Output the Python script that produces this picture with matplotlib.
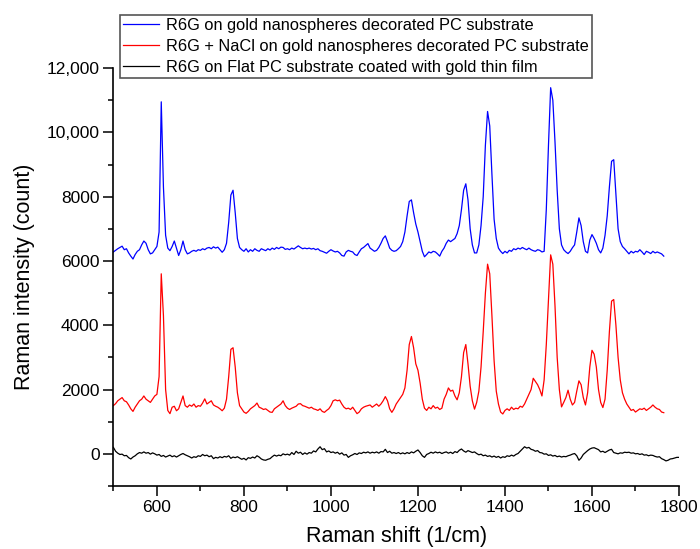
import numpy as np
import matplotlib
matplotlib.use("Agg")
import matplotlib.pyplot as plt
from matplotlib.ticker import FixedLocator

plt.rcParams['font.family'] = ['Liberation Sans', 'DejaVu Sans']

# ---- data (Raman shift grid, step 5 1/cm) ----
shift_np = np.arange(500, 1766, 5)        # gold nanospheres series (500-1765)
shift_flat = np.arange(500, 1801, 5)      # flat film series (500-1800)

labels = [
    "R6G on gold nanospheres decorated PC substrate",
    "R6G + NaCl on gold nanospheres decorated PC substrate",
    "R6G on Flat PC substrate coated with gold thin film",
]

r6g_np = [
    6280, 6330, 6380, 6420, 6460, 6350, 6380, 6250, 6150, 6060,
    6200, 6300, 6350, 6500, 6620, 6550, 6350, 6220, 6250, 6350,
    6450, 6900, 10950, 8300, 6800, 6400, 6320, 6450, 6620, 6400,
    6170, 6350, 6620, 6350, 6220, 6250, 6300, 6330, 6300, 6350,
    6330, 6380, 6350, 6400, 6420, 6380, 6440, 6400, 6430, 6350,
    6270, 6350, 6550, 7200, 8050, 8200, 7500, 6700, 6420, 6350,
    6300, 6380, 6280, 6350, 6300, 6380, 6330, 6300, 6380, 6350,
    6320, 6380, 6340, 6400, 6360, 6420, 6380, 6430, 6420, 6360,
    6380, 6350, 6400, 6370, 6420, 6470, 6420, 6380, 6400, 6380,
    6400, 6370, 6390, 6350, 6380, 6320, 6300, 6270, 6240, 6300,
    6350, 6310, 6280, 6300, 6250, 6170, 6150, 6280, 6330, 6300,
    6280, 6200, 6170, 6280, 6380, 6420, 6480, 6540, 6400, 6350,
    6300, 6330, 6420, 6550, 6700, 6780, 6600, 6400, 6330, 6300,
    6320, 6380, 6450, 6600, 6900, 7400, 7850, 7900, 7500, 7150,
    6900, 6600, 6300, 6130, 6200, 6280, 6250, 6300, 6280, 6220,
    6150, 6300, 6400, 6550, 6650, 6600, 6650, 6700, 6850, 7100,
    7600, 8200, 8400, 7900, 7000, 6500, 6250, 6250, 6500, 7100,
    8000, 9600, 10650, 10200, 8700, 7300, 6700, 6400, 6300, 6230,
    6300, 6250, 6330, 6300, 6380, 6350, 6400, 6370, 6420, 6380,
    6350, 6400, 6350, 6320, 6300, 6350, 6330, 6280, 6300, 7600,
    9600, 11390, 11000, 9700, 8200, 7000, 6500, 6350, 6280, 6230,
    6300, 6410, 6500, 6900, 7340, 7100, 6600, 6300, 6250, 6650,
    6820, 6700, 6550, 6350, 6250, 6400, 6800, 7400, 8300, 9100,
    9150, 8100, 7000, 6600, 6450, 6380, 6300, 6220, 6300, 6250,
    6300, 6280, 6350, 6280, 6200, 6300, 6270, 6230, 6300, 6250,
    6280, 6250, 6220, 6150,
]

r6g_nacl = [
    1500, 1560, 1650, 1700, 1750, 1650, 1620, 1520, 1400, 1320,
    1450, 1550, 1650, 1700, 1800, 1700, 1650, 1600, 1700, 1800,
    1850, 2400, 5600, 4300, 2000, 1350, 1250, 1450, 1480, 1340,
    1400, 1600, 1800, 1500, 1450, 1520, 1480, 1550, 1450, 1500,
    1480, 1580, 1710, 1550, 1600, 1650, 1520, 1480, 1450, 1400,
    1340, 1420, 1700, 2400, 3250, 3300, 2700, 1900, 1500, 1400,
    1300, 1260, 1320, 1400, 1450, 1500, 1580, 1450, 1420, 1380,
    1400, 1350, 1300, 1290, 1400, 1450, 1500, 1550, 1650, 1500,
    1420, 1380, 1420, 1450, 1480, 1550, 1560, 1500, 1480, 1450,
    1420, 1450, 1400, 1380, 1350, 1400, 1320, 1290, 1350, 1400,
    1500, 1650, 1680, 1650, 1670, 1550, 1450, 1400, 1420, 1380,
    1450, 1350, 1250, 1300, 1400, 1450, 1480, 1500, 1520, 1450,
    1500, 1550, 1480, 1550, 1650, 1780, 1650, 1400, 1290, 1400,
    1550, 1650, 1750, 1850, 2050, 2600, 3400, 3650, 3300, 2800,
    2600, 2200, 1700, 1420, 1350, 1450, 1400, 1500, 1420, 1450,
    1380, 1420, 1700, 1850, 2050, 1950, 1980, 1800, 1680, 1900,
    2400, 3150, 3400, 2800, 2100, 1650, 1390, 1600, 1950, 2700,
    3800, 5000, 5900, 5600, 4300, 2900, 1950, 1550, 1300, 1240,
    1350, 1400, 1350, 1450, 1380, 1420, 1400, 1480, 1450, 1550,
    1700, 1850, 2000, 2350, 2250, 2150, 2000, 1800, 2300, 3400,
    4800, 6190, 5900, 4600, 3000, 2000, 1460, 1600, 1750, 1980,
    1700, 1520, 1600, 1950, 2270, 2150, 1750, 1520, 1900, 2700,
    3220, 3100, 2700, 2000, 1600, 1440, 1700, 2600, 3800, 4750,
    4800, 4000, 3000, 2300, 1900, 1700, 1550, 1450, 1350, 1380,
    1300, 1350, 1400, 1380, 1420, 1350, 1400, 1450, 1520, 1450,
    1400, 1380, 1300, 1280,
]

r6g_flat = [
    200, 80, 20, -20, -10, -60, -50, -120, -160, -100,
    -60, 0, 40, 20, 60, 20, 40, -10, 30, 0,
    -40, -20, -80, -50, -100, -70, -40, -90, -60, -100,
    -60, -20, 10, -30, -60, -90, -130, -90, -110, -60,
    -80, -20, -60, -40, -90, -60, -150, -110, -130, -90,
    -120, -80, -100, -60, -140, -100, -120, -90, -130, -170,
    -140, -190, -120, -140, -100, -130, -60, -100, -160, -190,
    -200, -170, -150, -90, -40, -70, -40, -60, 0, -30,
    -10, -40, 40, -20, 80, 20, 50, -20, 30, -10,
    40, 20, 90, 60, 150, 220, 130, 160, 60, 90,
    40, 60, 20, 50, -10, 30, -40, -20, -110, -60,
    -30, 10, -20, 30, 10, 50, 30, 60, 20, 50,
    30, 60, 20, 70, 60, 140, 40, 80, 20, 40,
    10, 40, 0, 30, 0, 40, 10, 60, 30, 80,
    120, 40, -60, -110, -20, 10, 50, 20, 60, 30,
    50, 10, 40, 60, 20, 50, 10, 70, 40, 110,
    150, 90, 50, 100, 70, 40, 60, 10, -30, -10,
    -60, -40, -80, -60, -100, -70, -110, -80, -130, -90,
    -110, -60, -80, -40, -70, -20, 10, 80, 150, 220,
    180, 200, 140, 120, 80, 100, 40, 30, -10, 0,
    -50, -30, -70, -50, -90, -70, -100, -80, -90, -60,
    -40, -10, 10, -60, -200, -130, -20, 40, 100, 150,
    180, 190, 160, 130, 60, 80, 40, 80, 120, 140,
    40, 20, 0, 30, 20, 50, 40, 50, 20, 30,
    0, 10, -20, 0, -40, -30, -60, -40, -50, -80,
    -100, -90, -150, -180, -220, -200, -160, -150, -130, -110,
    -110,
]

x_major = [600, 800, 1000, 1200, 1400, 1600, 1800]
x_minor = [500, 700, 900, 1100, 1300, 1500, 1700]
y_major = [0, 2000, 4000, 6000, 8000, 10000, 12000]
y_minor = [-1000, 1000, 3000, 5000, 7000, 9000, 11000]
y_labels = ["0", "2000", "4000", "6000", "8000", "10,000", "12,000"]

# ---- figure ----
fig = plt.figure(figsize=(7.0, 5.49), dpi=100)
ax = fig.add_axes([0.162, 0.1148, 0.808, 0.7612])

ax.plot(shift_np, r6g_np, color="#0000FF", lw=0.9, label=labels[0])
ax.plot(shift_np, r6g_nacl, color="#FF0000", lw=0.9, label=labels[1])
ax.plot(shift_flat, r6g_flat, color="#000000", lw=0.9, label=labels[2])

ax.set_xlim(500, 1800)
ax.set_ylim(-1000, 12000)

ax.xaxis.set_major_locator(FixedLocator(x_major))
ax.xaxis.set_minor_locator(FixedLocator(x_minor))
ax.yaxis.set_major_locator(FixedLocator(y_major))
ax.set_yticklabels(y_labels)
ax.yaxis.set_minor_locator(FixedLocator(y_minor))

for s in ["top", "right"]:
    ax.spines[s].set_visible(False)
for s in ["left", "bottom"]:
    ax.spines[s].set_linewidth(1.2)

ax.tick_params(axis="both", which="major", direction="out", length=7,
               width=1.1, labelsize=12.5, pad=3)
ax.tick_params(axis="both", which="minor", direction="out", length=3.5,
               width=1.1)

ax.set_xlabel("Raman shift (1/cm)", fontsize=15.5, labelpad=8)
ax.set_ylabel("Raman intensity (count)", fontsize=15.5, labelpad=8)

leg = fig.legend(loc="upper left", bbox_to_anchor=(0.171, 0.973),
                 fontsize=11.8, frameon=True, fancybox=False,
                 handlelength=2.2, handletextpad=0.4, labelspacing=0.36,
                 borderpad=0.2, borderaxespad=0.0, framealpha=1)
leg.get_frame().set_edgecolor("#555555")
leg.get_frame().set_linewidth(1.2)

fig.savefig("out.png", dpi=100)
